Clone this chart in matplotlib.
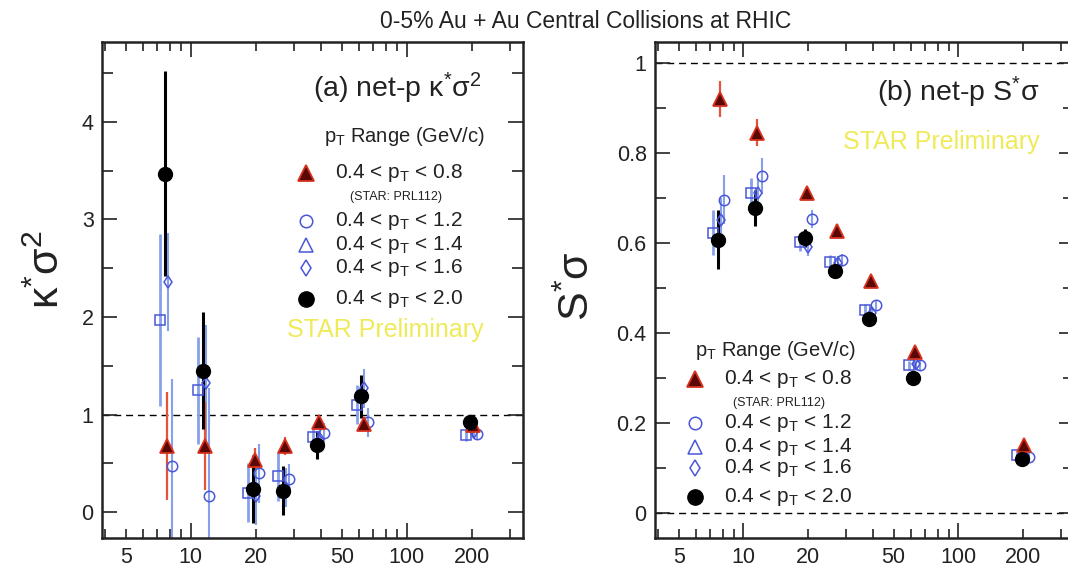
import matplotlib
matplotlib.use("Agg")
import matplotlib.pyplot as plt
from matplotlib.lines import Line2D
from matplotlib.ticker import FixedLocator, LogLocator, FuncFormatter, MultipleLocator

plt.rcParams['font.family'] = ['Liberation Sans', 'DejaVu Sans']
plt.rcParams['mathtext.fontset'] = 'custom'
plt.rcParams['mathtext.rm'] = 'Liberation Sans'
plt.rcParams['mathtext.it'] = 'Liberation Sans'
plt.rcParams['mathtext.bf'] = 'Liberation Sans:bold'

# ---------------- data ----------------
energies = [7.7, 11.5, 19.6, 27, 39, 62.4, 200]

# kappa*sigma^2
k_08 = [0.68, 0.68, 0.54, 0.68, 0.92, 0.90, 0.89]
k_08_err = [0.55, 0.45, 0.12, 0.09, 0.06, 0.06, 0.04]
k_12 = [0.47, 0.17, 0.40, 0.34, 0.81, 0.92, 0.80]
k_12_err = [0.90, 1.10, 0.30, 0.15, 0.10, 0.15, 0.05]
k_14 = [1.97, 1.25, 0.20, 0.37, 0.77, 1.10, 0.79]
k_14_err = [0.88, 0.55, 0.30, 0.25, 0.10, 0.20, 0.06]
k_16 = [2.36, 1.32, 0.17, 0.25, 0.75, 1.27, 0.82]
k_16_err = [0.50, 0.60, 0.30, 0.20, 0.10, 0.20, 0.05]
k_20 = [3.47, 1.45, 0.24, 0.22, 0.69, 1.19, 0.92]
k_20_err = [1.05, 0.60, 0.35, 0.25, 0.14, 0.22, 0.07]

# S*sigma
s_08 = [0.920, 0.845, 0.710, 0.627, 0.515, 0.357, 0.150]
s_08_err = [0.040, 0.030, 0.015, 0.015, 0.012, 0.012, 0.010]
s_12 = [0.696, 0.748, 0.654, 0.561, 0.461, 0.328, 0.125]
s_12_err = [0.055, 0.040, 0.020, 0.015, 0.012, 0.010, 0.008]
s_14 = [0.623, 0.710, 0.603, 0.557, 0.452, 0.328, 0.128]
s_14_err = [0.050, 0.035, 0.020, 0.015, 0.012, 0.010, 0.008]
s_16 = [0.650, 0.710, 0.590, 0.555, 0.445, 0.330, 0.126]
s_16_err = [0.050, 0.035, 0.020, 0.015, 0.012, 0.010, 0.008]
s_20 = [0.607, 0.678, 0.610, 0.537, 0.430, 0.300, 0.120]
s_20_err = [0.065, 0.040, 0.020, 0.015, 0.012, 0.010, 0.008]

title = "0-5% Au + Au Central Collisions at RHIC"
legend_header = r"p$_{\rm T}$ Range (GeV/c)"
legend_labels = [r"0.4 < p$_{\rm T}$ < 0.8", r"0.4 < p$_{\rm T}$ < 1.2",
                 r"0.4 < p$_{\rm T}$ < 1.4", r"0.4 < p$_{\rm T}$ < 1.6",
                 r"0.4 < p$_{\rm T}$ < 2.0"]
prl_note = "(STAR: PRL112)"
x_tick_labels = {5: "5", 10: "10", 20: "20", 50: "50", 100: "100", 200: "200"}

# ---------------- styles ----------------
W, H = 1068, 567
RED_E = '#d8321e'
RED_F = '#5a0806'
RED_ERR = '#e2553a'
BLUE = '#4a56d8'
BLUE_ERR = '#86a0ea'
YELLOW = '#eeea58'
INK = '#222222'

fig = plt.figure(figsize=(W / 100, H / 100), dpi=100)


def fx(px):
    return px / W


def fy(py):
    return 1 - py / H


axL = fig.add_axes([fx(102), fy(537.7), fx(421), (537.7 - 41.7) / H])
axR = fig.add_axes([fx(655), fy(537.7), fx(419), (537.7 - 41.7) / H])

series_style = {
    '14': dict(marker='s', ms=7.5, mfc='none', mec=BLUE, mew=1.1, ecolor=BLUE_ERR, shift=0.94, elw=2.0),
    '16': dict(marker='d', ms=6, mfc='none', mec=BLUE, mew=1.1, ecolor=BLUE_ERR, shift=1.02, elw=1.5),
    '12': dict(marker='o', ms=7.5, mfc='none', mec=BLUE, mew=1.1, ecolor=BLUE_ERR, shift=1.06, elw=1.5),
    '08': dict(marker='^', ms=10.5, mfc=RED_F, mec=RED_E, mew=1.3, ecolor=RED_ERR, shift=1.01, elw=1.6),
    '20': dict(marker='o', ms=10, mfc='black', mec='black', mew=1, ecolor='black', shift=0.985, elw=2.2),
}


def draw(ax, data):
    for key in ['14', '16', '12', '08', '20']:
        y, e = data[key]
        st = series_style[key]
        xs = [v * st['shift'] for v in energies]
        ax.errorbar(xs, y, yerr=e, fmt='none', ecolor=st['ecolor'], elinewidth=st['elw'],
                    capsize=0, zorder=2)
        ax.plot(xs, y, ls='none', marker=st['marker'], ms=st['ms'], mfc=st['mfc'],
                mec=st['mec'], mew=st['mew'], zorder=3)


draw(axL, {'08': (k_08, k_08_err), '12': (k_12, k_12_err), '14': (k_14, k_14_err),
           '16': (k_16, k_16_err), '20': (k_20, k_20_err)})
draw(axR, {'08': (s_08, s_08_err), '12': (s_12, s_12_err), '14': (s_14, s_14_err),
           '16': (s_16, s_16_err), '20': (s_20, s_20_err)})

dash = (0, (5, 3.5))
axL.axhline(1, color='black', lw=1.0, ls=dash, zorder=1)
axR.axhline(1, color='black', lw=1.0, ls=dash, zorder=1)
axR.axhline(0, color='black', lw=1.0, ls=dash, zorder=1)

axL.set_ylim(-0.26, 4.82)
axR.set_ylim(-0.055, 1.047)
axL.yaxis.set_major_locator(FixedLocator([0, 1, 2, 3, 4]))
axL.yaxis.set_minor_locator(MultipleLocator(0.5))
axR.yaxis.set_major_locator(FixedLocator([0, 0.2, 0.4, 0.6, 0.8, 1.0]))
axR.yaxis.set_minor_locator(MultipleLocator(0.1))
axL.yaxis.set_major_formatter(FuncFormatter(lambda v, p: f"{v:g}"))
axR.yaxis.set_major_formatter(FuncFormatter(lambda v, p: f"{v:g}"))


def minor_fmt(v, p):
    for k, s in x_tick_labels.items():
        if abs(v - k) / k < 1e-6 and k not in (10, 100):
            return s
    return ""


for ax in (axL, axR):
    ax.set_xscale('log')
    ax.set_xlim(3.88, 345)
    ax.xaxis.set_major_locator(FixedLocator([10, 100]))
    ax.xaxis.set_major_formatter(FuncFormatter(lambda v, p: x_tick_labels.get(int(round(v)), "")))
    ax.xaxis.set_minor_locator(LogLocator(base=10, subs=[2, 3, 4, 5, 6, 7, 8, 9], numticks=20))
    ax.xaxis.set_minor_formatter(FuncFormatter(minor_fmt))
    ax.tick_params(which='both', direction='in', top=True, right=True, labelsize=15.5,
                   colors=INK, width=1.2, pad=6)
    ax.tick_params(which='major', length=11)
    ax.tick_params(which='minor', length=6.5)
    ax.tick_params(axis='y', which='minor', length=8)
    ax.tick_params(axis='x', which='both', pad=7)
    for sp in ax.spines.values():
        sp.set_linewidth(1.8)
        sp.set_color(INK)

# ---------------- texts ----------------
fig.text(fx(586), fy(22), title, ha='center', va='center', fontsize=16.5, color=INK)

fig.text(fx(48), fy(270), "κ$^{*}$σ$^{2}$", rotation=90, ha='center', va='center',
         fontsize=31, color=INK)
fig.text(fx(578), fy(286), "S$^{*}$σ", rotation=90, ha='center', va='center',
         fontsize=31, color=INK)

fig.text(fx(482), fy(88), "(a) net-p κ$^{*}$σ$^{2}$", ha='right', va='center',
         fontsize=20.5, color=INK)
fig.text(fx(1040), fy(92), "(b) net-p S$^{*}$σ", ha='right', va='center',
         fontsize=20.5, color=INK)

fig.text(fx(484), fy(330), "STAR Preliminary", ha='right', va='center', fontsize=18, color=YELLOW)
fig.text(fx(1040), fy(142), "STAR Preliminary", ha='right', va='center', fontsize=18, color=YELLOW)

legend_markers = [
    dict(marker='^', ms=11, mfc=RED_F, mec=RED_E, mew=1.3),
    dict(marker='o', ms=9, mfc='none', mec=BLUE, mew=1.1),
    dict(marker='^', ms=10, mfc='none', mec=BLUE, mew=1.1),
    dict(marker='d', ms=8, mfc='none', mec=BLUE, mew=1.1),
    dict(marker='o', ms=11, mfc='black', mec='black', mew=1),
]


def draw_legend(hx, hy, mx, tx, rows, px, py):
    fig.text(fx(hx), fy(hy), legend_header, ha='left', va='center', fontsize=14.5, color=INK)
    for lab, st, ry in zip(legend_labels, legend_markers, rows):
        fig.add_artist(Line2D([fx(mx)], [fy(ry)], transform=fig.transFigure, ls='none', **st))
        fig.text(fx(tx), fy(ry), lab, ha='left', va='center', fontsize=15, color=INK)
    fig.text(fx(px), fy(py), prl_note, ha='left', va='center', fontsize=9, color=INK)


draw_legend(324, 137, 306, 335, [173, 221, 245, 268, 299], 350, 197)
draw_legend(695, 350, 695, 724, [379, 423, 447, 468, 497], 733, 403)

fig.savefig("out.png", dpi=100)
